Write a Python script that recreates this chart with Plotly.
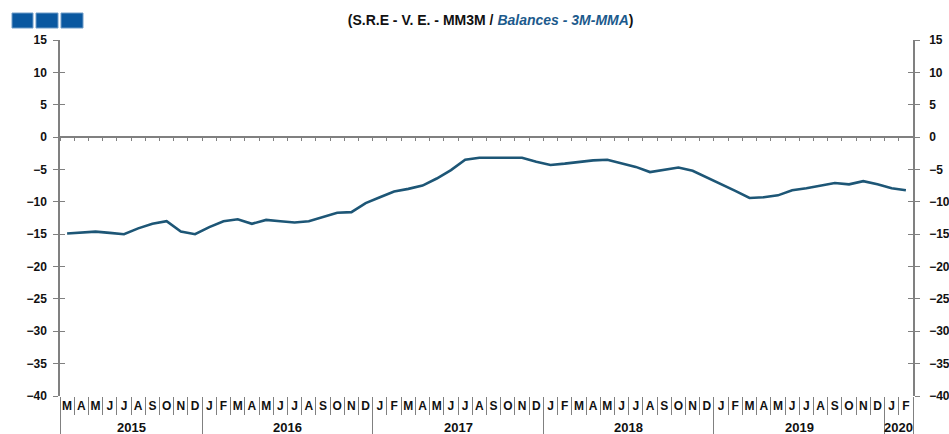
import plotly.graph_objects as go

months = ["M","A","M","J","J","A","S","O","N","D",
          "J","F","M","A","M","J","J","A","S","O","N","D",
          "J","F","M","A","M","J","J","A","S","O","N","D",
          "J","F","M","A","M","J","J","A","S","O","N","D",
          "J","F","M","A","M","J","J","A","S","O","N","D",
          "J","F"]
years = ["2015", "2016", "2017", "2018", "2019", "2020"]
months_per_year = [10, 12, 12, 12, 12, 2]
values = [-14.9, -14.7, -14.6, -14.8, -15.0, -14.1, -13.4, -13.0, -14.6, -15.0,
          -13.9, -13.0, -12.7, -13.4, -12.8, -13.0, -13.2, -13.0, -12.3, -11.7, -11.6, -10.2,
          -9.3, -8.4, -8.0, -7.5, -6.4, -5.1, -3.5, -3.2, -3.2, -3.2, -3.2, -3.8,
          -4.3, -4.1, -3.8, -3.6, -3.5, -4.0, -4.6, -5.4, -5.0, -4.7, -5.2, -6.2,
          -7.2, -8.3, -9.4, -9.3, -9.0, -8.2, -7.9, -7.5, -7.1, -7.3, -6.8, -7.3,
          -7.9, -8.2]
y_ticks = [15, 10, 5, 0, -5, -10, -15, -20, -25, -30, -35, -40]

n = len(values)
xs = list(range(n))
ymin, ymax = -40, 15
axis_col = "#808080"
font_fam = "Liberation Sans, Arial, sans-serif"

month_bounds = [i - 0.5 for i in range(n + 1)]
year_bounds = [-0.5]
year_centers = []
acc = 0
for c in months_per_year:
    year_centers.append(acc + (c - 1) / 2)
    acc += c
    year_bounds.append(acc - 0.5)

fig = go.Figure()
fig.add_trace(go.Scatter(x=xs, y=values, mode="lines",
                         line=dict(color="#1d5676", width=2.6),
                         hoverinfo="skip", showlegend=False))
for xa in ["x2", "x3", "x5"]:
    fig.add_trace(go.Scatter(x=[xs[0]], y=[values[0]], xaxis=xa, yaxis="y",
                             mode="markers", marker=dict(opacity=0),
                             hoverinfo="skip", showlegend=False))
fig.add_trace(go.Scatter(x=[xs[0]], y=[values[0]], xaxis="x", yaxis="y2",
                         mode="markers", marker=dict(opacity=0),
                         hoverinfo="skip", showlegend=False))

xr = [-0.5, n - 0.5]
tickfont = dict(family=font_fam, size=12, color="#111111", weight="bold")

fig.update_layout(
    width=949, height=434,
    margin=dict(l=60, r=36, t=40, b=38, autoexpand=False),
    paper_bgcolor="white", plot_bgcolor="white",
    font=dict(family=font_fam),
    title=dict(
        text="(S.R.E - V. E. - MM3M / <i><span style='color:#1c5a8c'>Balances - 3M-MMA</span></i>)",
        x=0.517, xanchor="center", y=0.953, yanchor="middle",
        font=dict(family=font_fam, size=14, color="#111111", weight="bold")),
    xaxis=dict(range=xr, tickvals=xs, ticktext=months, ticks="", showline=False,
               showgrid=False, zeroline=False, tickfont=tickfont, tickangle=0,
               automargin=False, ticklabelstandoff=1),
    xaxis2=dict(range=xr, overlaying="x", anchor="y", side="bottom",
                tickvals=month_bounds, ticks="outside", ticklen=18, tickwidth=1,
                tickcolor=axis_col, showticklabels=False, showline=False,
                showgrid=False, zeroline=False, automargin=False),
    xaxis3=dict(range=xr, overlaying="x", anchor="y", side="bottom",
                tickvals=year_bounds, ticks="outside", ticklen=40, tickwidth=1,
                tickcolor=axis_col, showticklabels=False, showline=False,
                showgrid=False, zeroline=False, automargin=False),
    xaxis5=dict(range=xr, overlaying="x", anchor="free",
                position=(0 - ymin) / (ymax - ymin), side="bottom",
                tickvals=month_bounds, ticks="outside", ticklen=3, tickwidth=1,
                tickcolor=axis_col, showticklabels=False, showline=True,
                linecolor=axis_col, linewidth=1.5,
                showgrid=False, zeroline=False, automargin=False),
    yaxis=dict(range=[ymin, ymax], tickvals=y_ticks, ticks="outside", ticklen=5,
               tickcolor=axis_col, showline=True, linecolor=axis_col, linewidth=1.5,
               mirror="ticks", showgrid=False, zeroline=False, tickfont=tickfont,
               ticklabelstandoff=4, automargin=False),
    yaxis2=dict(range=[ymin, ymax], overlaying="y", side="right", tickvals=y_ticks,
                ticks="inside", ticklen=5, tickcolor=axis_col, showline=True,
                linecolor=axis_col, linewidth=1.5, mirror="ticks", showgrid=False,
                zeroline=False, tickfont=tickfont, ticklabelstandoff=12,
                automargin=False),
)

for yc, yl in zip(year_centers, years):
    fig.add_annotation(x=yc, xref="x", y=0, yref="paper", yanchor="top",
                       yshift=-22, text=yl, showarrow=False,
                       font=dict(family=font_fam, size=13, color="#111111",
                                 weight="bold"))

pw = 949 - 60 - 36
ph = 434 - 40 - 38
for x0, x1 in [(12, 33), (36, 58), (61, 83)]:
    fig.add_shape(type="rect", xref="paper", yref="paper",
                  x0=(x0 - 60) / pw, x1=(x1 - 60) / pw,
                  y0=(434 - 38 - 28) / ph, y1=(434 - 38 - 13) / ph,
                  fillcolor="#0a58a0", line=dict(color="#6f9cc8", width=1))

fig.write_html("out.html", config={"displayModeBar": False},
               post_script="document.body.style.margin='0';document.body.style.overflow='hidden';")
